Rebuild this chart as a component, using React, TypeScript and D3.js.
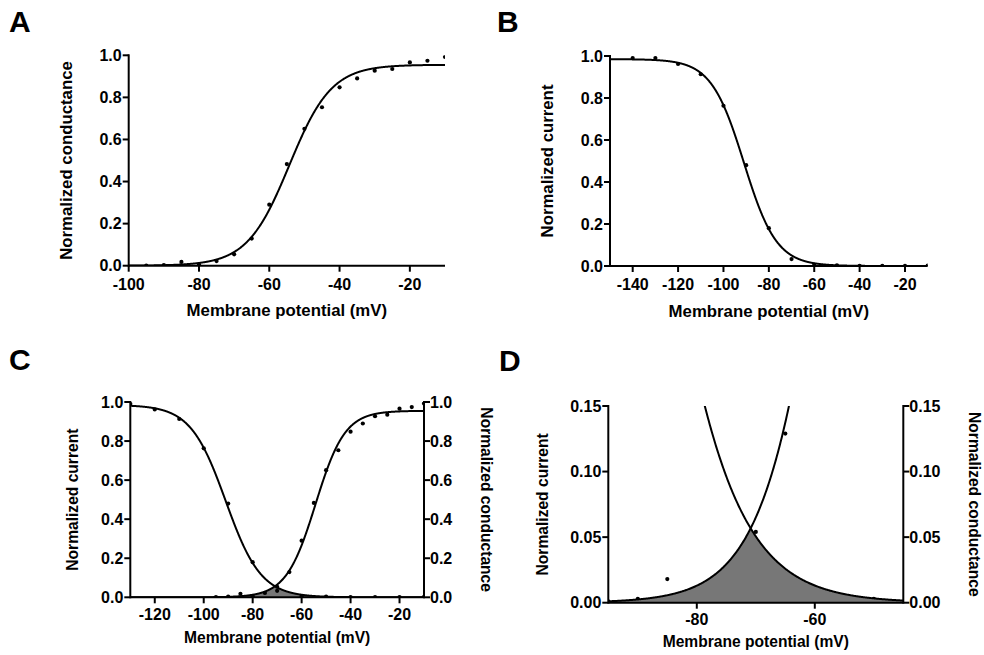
import React from 'react'
import * as d3 from 'd3'

// activation (conductance) points, mV -> normalized conductance
const actVoltage = [-95, -90, -85, -80, -75, -70, -65, -60, -55, -50, -45, -40, -35, -30, -25, -20, -15, -10]
const actValue = [0.001, 0.003, 0.018, 0.006, 0.022, 0.054, 0.129, 0.29, 0.483, 0.651, 0.753, 0.848, 0.89, 0.927, 0.935, 0.966, 0.974, 0.992]

// steady-state inactivation (current) points
const inactVoltage = [-140, -130, -120, -110, -100, -90, -80, -70, -60, -50, -40, -30, -20, -10]
const inactValue = [0.99, 0.99, 0.962, 0.913, 0.763, 0.48, 0.18, 0.033, 0.006, 0.003, 0.001, 0.001, 0.001, 0.002]

// Boltzmann fit parameters
const actFit = { max: 0.955, vHalf: -54.3, slope: 6.0 }
const inactFit = { max: 0.985, vHalf: -91, slope: 7.2 }

const ticksA = [-100, -80, -60, -40, -20]
const ticksB = [-140, -120, -100, -80, -60, -40, -20]
const ticksC = [-120, -100, -80, -60, -40, -20]
const ticksD = [-80, -60]
const yTicksFull = [0, 0.2, 0.4, 0.6, 0.8, 1.0]
const yTicksZoom = [0, 0.05, 0.1, 0.15]

const actAt = (v: number) => actFit.max / (1 + Math.exp((actFit.vHalf - v) / actFit.slope))
const inactAt = (v: number) => inactFit.max / (1 + Math.exp((v - inactFit.vHalf) / inactFit.slope))

const FONT = '"Liberation Sans", Arial, Helvetica, sans-serif'

type PanelProps = {
  id: string
  left: number
  right: number
  top: number
  bottom: number
  xDomain: [number, number]
  xTicks: number[]
  yDomain: [number, number]
  yTicks: number[]
  yDigits: number
  leftTitle: string
  leftTitleX: number
  rightTitle?: string
  rightTitleX?: number
  xTitleY: number
  xTickY: number
  titleSize: number
  showAct: boolean
  showInact: boolean
  shade?: boolean
  shadeOverDots?: boolean
}

function Panel(p: PanelProps) {
  const x = d3.scaleLinear().domain(p.xDomain).range([p.left, p.right])
  const y = d3.scaleLinear().domain(p.yDomain).range([p.bottom, p.top])
  const vs = d3.range(p.xDomain[0], p.xDomain[1] + 0.01, 0.1)

  const actPath = d3.line<number>().x(v => x(v)).y(v => y(actAt(v)))(vs)
  const inactPath = d3.line<number>().x(v => x(v)).y(v => y(inactAt(v)))(vs)
  const shadePath = d3.area<number>()
    .x(v => x(v))
    .y0(y(0))
    .y1(v => y(Math.min(actAt(v), inactAt(v))))(vs)

  const inRange = (v: number, val: number) =>
    v >= p.xDomain[0] && v <= p.xDomain[1] && val <= p.yDomain[1]

  const dots: [number, number][] = []
  if (p.showAct) actVoltage.forEach((v, i) => inRange(v, actValue[i]) && dots.push([v, actValue[i]]))
  if (p.showInact) inactVoltage.forEach((v, i) => inRange(v, inactValue[i]) && dots.push([v, inactValue[i]]))

  const dotMarks = dots.map(([v, val], i) => (
    <circle key={i} cx={x(v)} cy={y(val)} r={2.1} fill="#000" />
  ))
  const shadeMark = p.shade ? <path d={shadePath || ''} fill="#777" stroke="none" /> : null
  const clipId = 'clip' + p.id
  const fmt = (t: number) => t.toFixed(p.yDigits)

  return (
    <g fontFamily={FONT} fontWeight="bold" fill="#000">
      <defs>
        <clipPath id={clipId}>
          <rect x={p.left} y={p.top} width={p.right - p.left} height={p.bottom - p.top} />
        </clipPath>
      </defs>
      <g clipPath={`url(#${clipId})`}>
        {!p.shadeOverDots && shadeMark}
        {dotMarks}
        {p.shadeOverDots && shadeMark}
        {p.showAct && <path d={actPath || ''} fill="none" stroke="#000" strokeWidth={2} />}
        {p.showInact && <path d={inactPath || ''} fill="none" stroke="#000" strokeWidth={2} />}
      </g>

      {/* axes */}
      <line x1={p.left} x2={p.right} y1={p.bottom} y2={p.bottom} stroke="#000" strokeWidth={2} />
      <line x1={p.left} x2={p.left} y1={p.top - 1} y2={p.bottom + 1} stroke="#000" strokeWidth={2} />
      {p.rightTitle && (
        <line x1={p.right} x2={p.right} y1={p.top - 1} y2={p.bottom + 1} stroke="#000" strokeWidth={2} />
      )}

      {p.xTicks.map(t => (
        <g key={'x' + t}>
          <line x1={x(t)} x2={x(t)} y1={p.bottom} y2={p.bottom + 6} stroke="#000" strokeWidth={2} />
          <text x={x(t)} y={p.xTickY} textAnchor="middle" fontSize={16}>{String(t)}</text>
        </g>
      ))}
      {p.yTicks.map(t => (
        <g key={'y' + t}>
          <line x1={p.left - 6} x2={p.left} y1={y(t)} y2={y(t)} stroke="#000" strokeWidth={2} />
          <text x={p.left - 7} y={y(t)} dy="0.36em" textAnchor="end" fontSize={16}>{fmt(t)}</text>
          {p.rightTitle && (
            <>
              <line x1={p.right} x2={p.right + 6} y1={y(t)} y2={y(t)} stroke="#000" strokeWidth={2} />
              <text x={p.right + 6} y={y(t)} dy="0.36em" textAnchor="start" fontSize={16}>{fmt(t)}</text>
            </>
          )}
        </g>
      ))}

      <text x={(p.left + p.right) / 2} y={p.xTitleY} textAnchor="middle" fontSize={p.titleSize}>
        Membrane potential (mV)
      </text>
      <text
        transform={`translate(${p.leftTitleX},${(p.top + p.bottom) / 2}) rotate(-90)`}
        textAnchor="middle"
        fontSize={p.titleSize}
      >
        {p.leftTitle}
      </text>
      {p.rightTitle && (
        <text
          transform={`translate(${p.rightTitleX},${(p.top + p.bottom) / 2}) rotate(90)`}
          textAnchor="middle"
          fontSize={p.titleSize}
        >
          {p.rightTitle}
        </text>
      )}
    </g>
  )
}

export default function App() {
  return (
    <svg
      width={984}
      height={655}
      style={{ position: 'absolute', left: 0, top: 0, background: '#fff' }}
    >
      <rect width={984} height={655} fill="#fff" />
      <g fontFamily={FONT} fontWeight="bold" fontSize={30}>
        <text x={9} y={32}>A</text>
        <text x={497} y={32}>B</text>
        <text x={9} y={370}>C</text>
        <text x={499} y={371}>D</text>
      </g>

      <Panel
        id="A" left={128.7} right={445} top={55.3} bottom={265.7}
        xDomain={[-100, -10]} xTicks={ticksA} yDomain={[0, 1]} yTicks={yTicksFull} yDigits={1}
        leftTitle="Normalized conductance" leftTitleX={71.5}
        xTitleY={315.5} xTickY={290} titleSize={16.8}
        showAct={true} showInact={false}
      />
      <Panel
        id="B" left={610} right={927.7} top={56} bottom={266}
        xDomain={[-150, -10]} xTicks={ticksB} yDomain={[0, 1]} yTicks={yTicksFull} yDigits={1}
        leftTitle="Normalized current" leftTitleX={552.5}
        xTitleY={316.5} xTickY={290} titleSize={16.8}
        showAct={false} showInact={true}
      />
      <Panel
        id="C" left={130.3} right={424} top={402} bottom={597.3}
        xDomain={[-130, -10]} xTicks={ticksC} yDomain={[0, 1]} yTicks={yTicksFull} yDigits={1}
        leftTitle="Normalized current" leftTitleX={78}
        rightTitle="Normalized conductance" rightTitleX={480.5}
        xTitleY={643} xTickY={620} titleSize={15.6}
        showAct={true} showInact={true} shade={true}
      />
      <Panel
        id="D" left={608.3} right={903.3} top={406} bottom={602.7}
        xDomain={[-95, -45]} xTicks={ticksD} yDomain={[0, 0.15]} yTicks={yTicksZoom} yDigits={2}
        leftTitle="Normalized current" leftTitleX={548}
        rightTitle="Normalized conductance" rightTitleX={968.5}
        xTitleY={647} xTickY={625} titleSize={15.6}
        showAct={true} showInact={true} shade={true} shadeOverDots={true}
      />
    </svg>
  )
}
